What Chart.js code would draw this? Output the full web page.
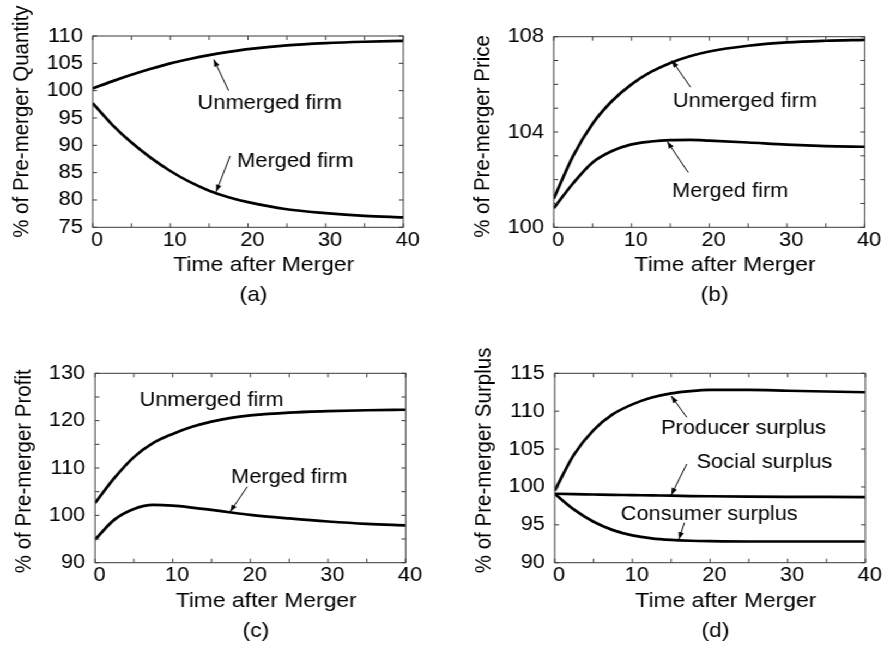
<!DOCTYPE html>
<html>
<head>
<meta charset="utf-8">
<title>Effects of a merger over time</title>
<script src="https://cdn.jsdelivr.net/npm/chart.js@4.4.1/dist/chart.umd.min.js"></script>
<style>
  html, body { margin: 0; padding: 0; background: #fff; }
  /* the original figure is a little stretched sideways, so the whole page is too */
  #page { position: absolute; left: 0; top: 0; width: 811px; height: 651px; transform: scaleX(1.09); transform-origin: 0 0; }
  #page canvas { position: absolute; }
</style>
</head>
<body>
<div id="page">
  <canvas id="chartA"></canvas>
  <canvas id="chartB"></canvas>
  <canvas id="chartC"></canvas>
  <canvas id="chartD"></canvas>
</div>
<script>
// time after merger (x values shared by all curves)
var times = [0, 2.5, 5, 7.5, 10, 12.5, 15, 17.5, 20, 25, 30, 35, 40];
var xLabels = [0, 10, 20, 30, 40];

// (a) % of pre-merger quantity
var qtyUnmerged = [100.4, 101.7, 102.9, 104.0, 105.0, 105.8, 106.5, 107.1, 107.6, 108.3, 108.7, 108.95, 109.1];
var qtyMerged = [97.7, 93.8, 90.5, 87.7, 85.3, 83.3, 81.7, 80.5, 79.6, 78.3, 77.6, 77.1, 76.8];
var qtyLabels = [75, 80, 85, 90, 95, 100, 105, 110];

// (b) % of pre-merger price
var priceUnmerged = [101.2, 103.0, 104.35, 105.3, 106.0, 106.52, 106.9, 107.18, 107.38, 107.62, 107.76, 107.83, 107.87];
var priceMerged = [100.8, 101.85, 102.72, 103.2, 103.48, 103.6, 103.66, 103.67, 103.64, 103.56, 103.47, 103.41, 103.38];
var priceLabels = [100, 104, 108];

// (c) % of pre-merger profit
var profitUnmerged = [102.6, 107.9, 112.3, 115.3, 117.2, 118.7, 119.8, 120.6, 121.1, 121.7, 122.0, 122.2, 122.3];
var profitMerged = [94.9, 99.1, 101.35, 102.2, 102.05, 101.65, 101.15, 100.6, 100.1, 99.35, 98.7, 98.2, 97.9];
var profitLabels = [90, 100, 110, 120, 130];

// (d) % of pre-merger surplus
var producerSurplus = [99.5, 104.3, 107.5, 109.6, 110.9, 111.8, 112.35, 112.65, 112.8, 112.8, 112.7, 112.6, 112.5];
var socialSurplus = [99.1, 99.05, 99.0, 98.95, 98.92, 98.88, 98.85, 98.8, 98.77, 98.73, 98.7, 98.68, 98.66];
var consumerSurplus = [99.1, 97.0, 95.4, 94.3, 93.6, 93.2, 93.0, 92.9, 92.85, 92.8, 92.8, 92.8, 92.8];
var surplusLabels = [90, 95, 100, 105, 110, 115];

var FONT = '"Liberation Sans", Arial, Helvetica, sans-serif';
Chart.defaults.font.family = FONT;
Chart.defaults.font.size = 20;
Chart.defaults.color = '#000';

var panels = [
  { canvas: 'chartA', box: [0, 0, 405, 325], area: [85, 36, 370, 227.3],
    yTitle: '% of Pre-merger Quantity', letter: '(a)',
    yMin: 75, yMax: 110, yStep: 5, yLabels: qtyLabels,
    series: [qtyUnmerged, qtyMerged],
    notes: [{ text: 'Unmerged firm', t: 22.8, v: 96.64 }, { text: 'Merged firm', t: 26.1, v: 85.98 }],
    arrows: [{ from: [17.5, 100.0], to: [15.6, 105.7] }, { from: [17.7, 88.05], to: [15.9, 81.5] }] },
  { canvas: 'chartB', box: [405, 0, 406, 325], area: [508, 36.7, 793.3, 227.3],
    yTitle: '% of Pre-merger Price', letter: '(b)',
    yMin: 100, yMax: 108, yStep: 1, yLabels: priceLabels,
    series: [priceUnmerged, priceMerged],
    notes: [{ text: 'Unmerged firm', t: 24.6, v: 105.04 }, { text: 'Merged firm', t: 22.7, v: 101.26 }],
    arrows: [{ from: [17.6, 105.88], to: [15.2, 107.0] }, { from: [17.3, 102.3], to: [14.6, 103.6] }] },
  { canvas: 'chartC', box: [0, 325, 405, 326], area: [87.2, 373.3, 372.2, 562.7],
    yTitle: '% of Pre-merger Profit', letter: '(c)',
    yMin: 90, yMax: 130, yStep: 5, yLabels: profitLabels,
    series: [profitUnmerged, profitMerged],
    notes: [{ text: 'Unmerged firm', t: 15.0, v: 123.1 }, { text: 'Merged firm', t: 25.0, v: 106.9 }],
    arrows: [{ from: [19.6, 106.05], to: [17.4, 100.77] }] },
  { canvas: 'chartD', box: [405, 325, 406, 326], area: [508.9, 373.3, 793.9, 562.7],
    yTitle: '% of Pre-merger Surplus', letter: '(d)',
    yMin: 90, yMax: 115, yStep: 5, yLabels: surplusLabels,
    series: [producerSurplus, socialSurplus, consumerSurplus],
    notes: [{ text: 'Producer surplus', t: 24.3, v: 106.95 }, { text: 'Social surplus', t: 27.0, v: 102.46 },
            { text: 'Consumer surplus', t: 19.9, v: 95.64 }],
    arrows: [{ from: [17.0, 109.19], to: [15.0, 112.0] }, { from: [17.0, 103.03], to: [15.0, 98.94] },
             { from: [16.7, 95.28], to: [16.0, 93.09] }] }
];

// frame with inward tics, texts and arrows (gnuplot style)
var decor = {
  id: 'decor',
  afterDraw: function(chart, args, opts) {
    var ctx = chart.ctx, a = chart.chartArea, x = chart.scales.x, y = chart.scales.y;
    ctx.save();
    ctx.strokeStyle = '#3a3a3a';
    ctx.lineWidth = 1;
    ctx.strokeRect(a.left, a.top, a.right - a.left, a.bottom - a.top);
    ctx.beginPath();
    x.ticks.forEach(function(tk) {
      var px = x.getPixelForValue(tk.value);
      ctx.moveTo(px, a.bottom); ctx.lineTo(px, a.bottom - 4);
      ctx.moveTo(px, a.top); ctx.lineTo(px, a.top + 4);
    });
    y.ticks.forEach(function(tk) {
      var py = y.getPixelForValue(tk.value);
      ctx.moveTo(a.left, py); ctx.lineTo(a.left + 4, py);
      ctx.moveTo(a.right, py); ctx.lineTo(a.right - 4, py);
    });
    ctx.stroke();

    // arrows
    ctx.strokeStyle = '#000';
    ctx.fillStyle = '#000';
    opts.arrows.forEach(function(ar) {
      var x0 = x.getPixelForValue(ar.from[0]), y0 = y.getPixelForValue(ar.from[1]);
      var x1 = x.getPixelForValue(ar.to[0]), y1 = y.getPixelForValue(ar.to[1]);
      var ang = Math.atan2(y1 - y0, x1 - x0);
      ctx.beginPath();
      ctx.moveTo(x0, y0); ctx.lineTo(x1, y1);
      ctx.stroke();
      ctx.beginPath();
      ctx.moveTo(x1, y1);
      ctx.lineTo(x1 - 7 * Math.cos(ang) + 2.5 * Math.sin(ang), y1 - 7 * Math.sin(ang) - 2.5 * Math.cos(ang));
      ctx.lineTo(x1 - 7 * Math.cos(ang) - 2.5 * Math.sin(ang), y1 - 7 * Math.sin(ang) + 2.5 * Math.cos(ang));
      ctx.closePath();
      ctx.fill();
    });

    ctx.font = '20px ' + FONT;
    ctx.textBaseline = 'alphabetic';
    ctx.textAlign = 'center';
    opts.notes.forEach(function(n) {
      ctx.fillText(n.text, x.getPixelForValue(n.t), y.getPixelForValue(n.v));
    });

    var cx = (a.left + a.right) / 2;
    ctx.font = '21px ' + FONT;
    ctx.fillText('Time after Merger', cx + 14.5, a.bottom + 44);
    ctx.fillText(opts.letter, cx + 5, a.bottom + 74);

    ctx.save();
    ctx.font = '20.5px ' + FONT;
    ctx.translate(a.left - 65, a.bottom + 10.5);
    ctx.rotate(-Math.PI / 2);
    ctx.textAlign = 'left';
    ctx.textBaseline = 'middle';
    ctx.fillText(opts.yTitle, 0, 0);
    ctx.restore();
    ctx.restore();
  }
};

panels.forEach(function(p) {
  var el = document.getElementById(p.canvas);
  el.width = p.box[2];
  el.height = p.box[3];
  el.style.left = p.box[0] + 'px';
  el.style.top = p.box[1] + 'px';

  var yWidth = p.area[0] - p.box[0];
  var xHeight = 30;

  new Chart(el, {
    type: 'line',
    data: {
      datasets: p.series.map(function(vals) {
        return {
          data: times.map(function(t, i) { return { x: t, y: vals[i] }; }),
          borderColor: '#000',
          borderWidth: 2.7,
          pointRadius: 0,
          cubicInterpolationMode: 'monotone',
          fill: false
        };
      })
    },
    options: {
      responsive: false,
      animation: false,
      layout: {
        padding: {
          left: 0,
          top: p.area[1] - p.box[1],
          right: p.box[0] + p.box[2] - p.area[2],
          bottom: p.box[1] + p.box[3] - p.area[3] - xHeight
        }
      },
      plugins: {
        legend: { display: false },
        tooltip: { enabled: false },
        decor: { yTitle: p.yTitle, letter: p.letter, notes: p.notes, arrows: p.arrows }
      },
      scales: {
        x: {
          type: 'linear', min: 0, max: 40,
          grid: { display: false, drawTicks: false },
          border: { display: false },
          ticks: {
            stepSize: 5, autoSkip: false, maxRotation: 0, padding: 1, labelOffset: 4,
            callback: function(v) { return xLabels.indexOf(v) >= 0 ? String(v) : ''; }
          },
          afterFit: function(s) { s.height = xHeight; }
        },
        y: {
          type: 'linear', min: p.yMin, max: p.yMax,
          grid: { display: false, drawTicks: false },
          border: { display: false },
          ticks: {
            stepSize: p.yStep, autoSkip: false, padding: 9,
            callback: function(v) { return p.yLabels.indexOf(v) >= 0 ? String(v) : ''; }
          },
          afterFit: function(s) { s.width = yWidth; }
        }
      }
    },
    plugins: [decor]
  });
});
</script>
</body>
</html>
